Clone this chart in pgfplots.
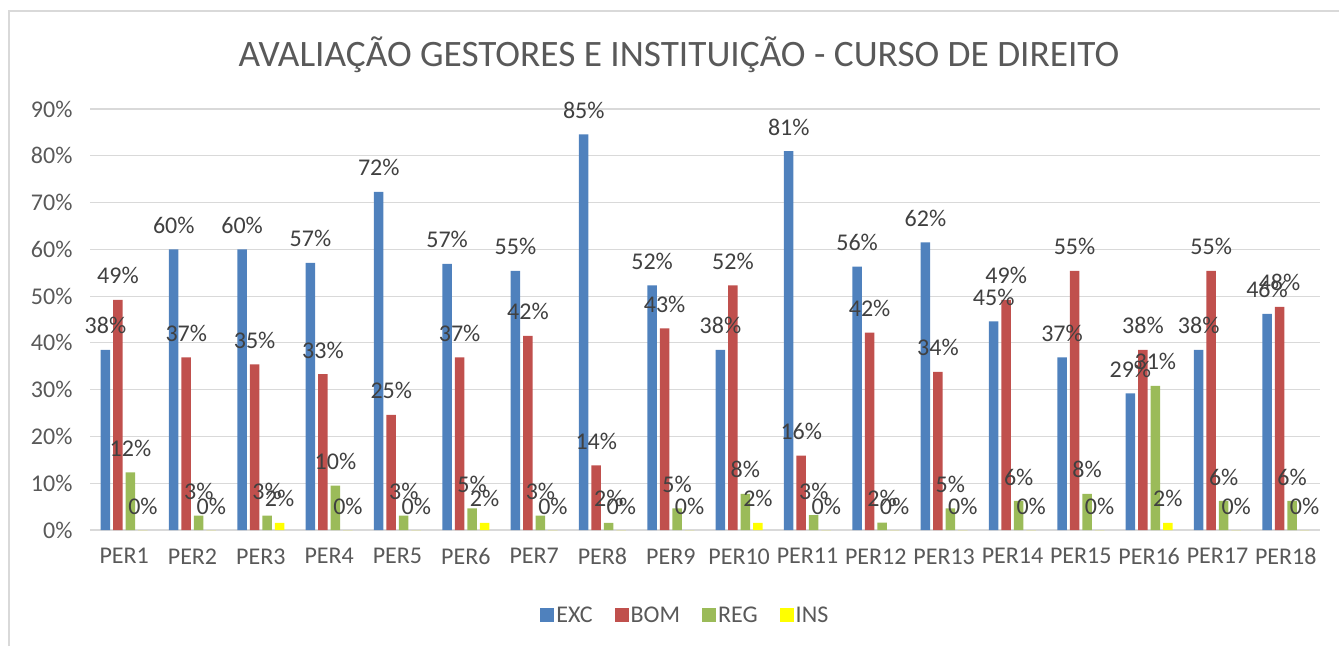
\documentclass[border=0pt]{standalone}
\usepackage{fontspec}
\setmainfont{Carlito}
\usepackage{pgfplots}
\usepackage{pgfplotstable}
\pgfplotsset{compat=1.18}
\definecolor{cexc}{HTML}{4F81BD}
\definecolor{cbom}{HTML}{C0504D}
\definecolor{creg}{HTML}{9BBB59}
\definecolor{cins}{HTML}{FFFF00}
\definecolor{txt}{HTML}{595959}
\definecolor{lbl}{HTML}{404040}
\definecolor{gridc}{HTML}{D9D9D9}

\pgfplotstableread{
x exc excl bom boml reg regl ins insl
0  38.5 38 49.2 49 12.3 12 0   0
1  60.0 60 36.9 37 3.1  3  0   0
2  60.0 60 35.4 35 3.1  3  1.5 2
3  57.1 57 33.3 33 9.5  10 0   0
4  72.3 72 24.6 25 3.1  3  0   0
5  56.9 57 36.9 37 4.6  5  1.5 2
6  55.4 55 41.5 42 3.1  3  0   0
7  84.6 85 13.8 14 1.5  2  0   0
8  52.3 52 43.1 43 4.6  5  0   0
9  38.5 38 52.3 52 7.7  8  1.5 2
10 81.0 81 15.9 16 3.2  3  0   0
11 56.3 56 42.2 42 1.6  2  0   0
12 61.5 62 33.8 34 4.6  5  0   0
13 44.6 45 49.2 49 6.2  6  0   0
14 36.9 37 55.4 55 7.7  8  0   0
15 29.2 29 38.5 38 30.8 31 1.5 2
16 38.5 38 55.4 55 6.2  6  0   0
17 46.2 46 47.7 48 6.2  6  0   0
}\datatable

\begin{document}
\begin{tikzpicture}
\path[use as bounding box] (0pt,0pt) rectangle (1339pt,646pt);
\draw[color=gridc, line width=1.5pt] (9pt,0pt) -- (9pt,635pt) -- (1339pt,635pt);
\node[font=\fontsize{37.3}{44}\selectfont, text=txt] at (679pt,591pt) {AVALIAÇÃO GESTORES E INSTITUIÇÃO - CURSO DE DIREITO};
\begin{axis}[
  at={(90pt,116pt)}, anchor=south west,
  scale only axis, width=1230pt, height=421pt,
  xmin=-0.5, xmax=17.5, ymin=0, ymax=90,
  ybar=3pt, bar width=9.5pt,
  axis line style={draw=none},
  major tick length=0pt,
  ymajorgrids, grid style={color=gridc, line width=1.2pt},
  xtick={0,...,17},
  xticklabels={PER1,PER2,PER3,PER4,PER5,PER6,PER7,PER8,PER9,PER10,PER11,PER12,PER13,PER14,PER15,PER16,PER17,PER18},
  ytick={0,10,...,90},
  yticklabels={0\%,10\%,20\%,30\%,40\%,50\%,60\%,70\%,80\%,90\%},
  tick label style={font=\fontsize{24}{28}\selectfont, text=txt},
  xticklabel style={yshift=-15pt},
  yticklabel style={xshift=-14pt},
  point meta=explicit symbolic,
  nodes near coords={\pgfplotspointmeta\%},
  every node near coord/.append style={font=\fontsize{24}{28}\selectfont, text=lbl, anchor=base, yshift=16pt},
  legend style={at={(0.484,-0.202)}, anchor=center, legend columns=4, draw=none,
    font=\fontsize{24}{28}\selectfont, text=txt,
    /tikz/every even column/.append style={column sep=20pt}},
  legend image code/.code={\fill[#1] (0pt,-7pt) rectangle (14pt,7pt);},
]
\addplot[fill=cexc, draw=none] table[x=x, y=exc, meta=excl] {\datatable};
\addplot[fill=cbom, draw=none] table[x=x, y=bom, meta=boml] {\datatable};
\addplot[fill=creg, draw=none] table[x=x, y=reg, meta=regl] {\datatable};
\addplot[fill=cins, draw=none] table[x=x, y=ins, meta=insl] {\datatable};
\legend{EXC,BOM,REG,INS}
\end{axis}
\end{tikzpicture}
\end{document}
